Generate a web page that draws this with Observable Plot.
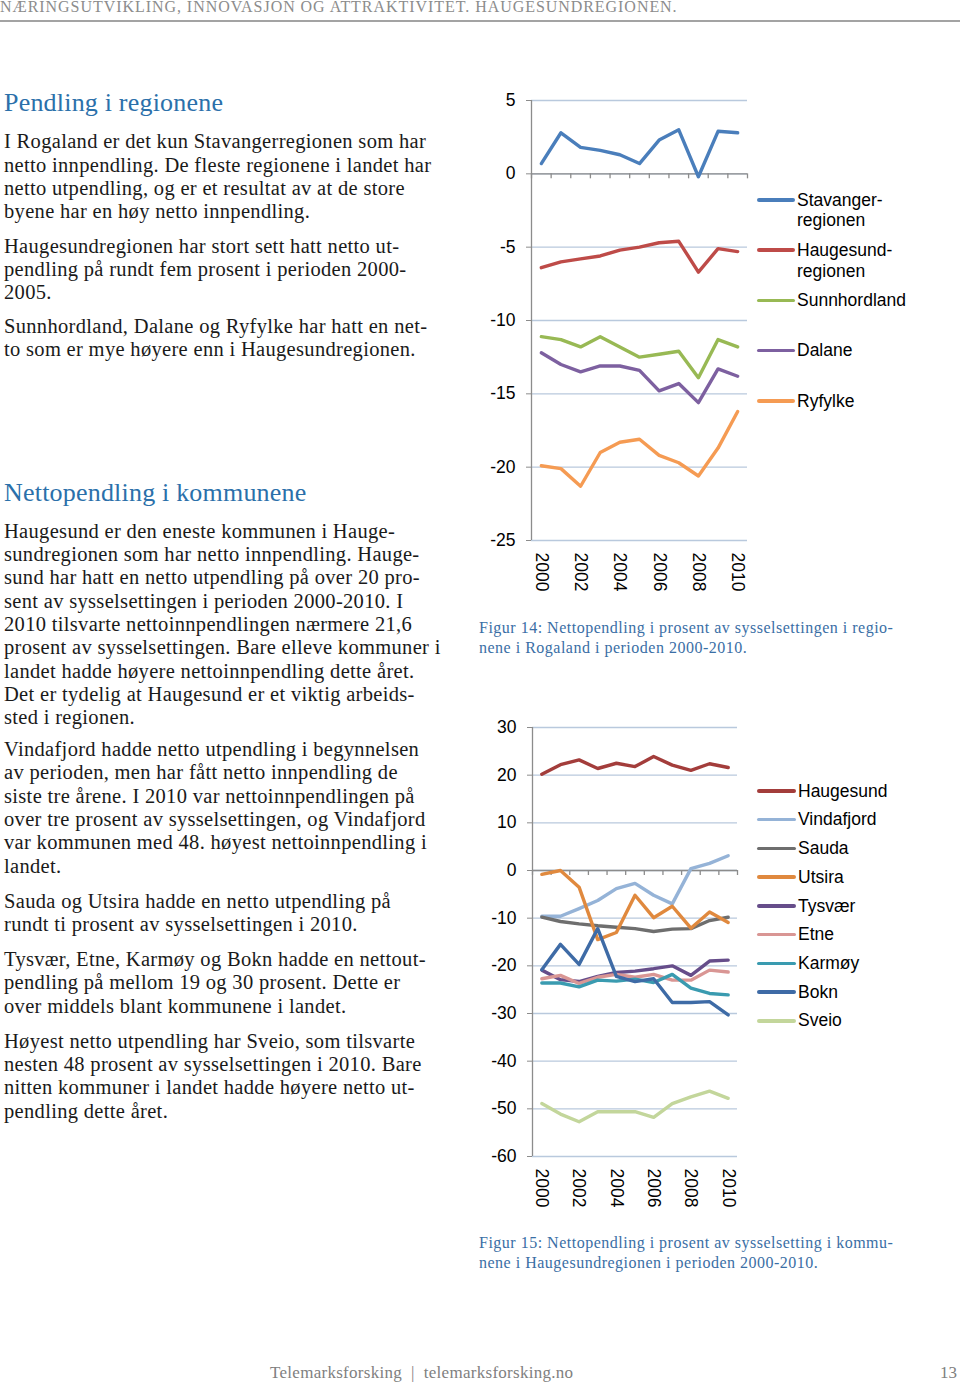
<!DOCTYPE html>
<html><head><meta charset="utf-8">
<script src="https://cdn.jsdelivr.net/npm/d3@7"></script>
<script src="https://cdn.jsdelivr.net/npm/@observablehq/plot@0.6"></script>
<style>
html,body{margin:0;padding:0;background:#fff}
body{width:960px;height:1384px;position:relative;overflow:hidden}
.t{position:absolute;font-family:"Liberation Serif","Times New Roman",serif;white-space:nowrap;color:#1a1a1a}
.p{left:4px;font-size:20.5px;line-height:23.35px;letter-spacing:0.32px}
.h{left:4px;font-size:26px;line-height:30px;color:#2b70aa;letter-spacing:0.2px}
.cap{left:479px;font-size:16px;line-height:19.5px;color:#3a6ea5;letter-spacing:0.5px}
.chart{position:absolute}
.leg{position:absolute;font-family:"Liberation Sans",Arial,sans-serif;font-size:17.5px;line-height:20.7px;color:#000;white-space:nowrap}
.sw{position:absolute;height:3.5px;border-radius:2px}
</style>
</head><body>
<div class="t" style="left:0;top:-1.6px;font-size:16px;line-height:18px;color:#8c8c8c;letter-spacing:0.95px">NÆRINGSUTVIKLING, INNOVASJON OG ATTRAKTIVITET. HAUGESUNDREGIONEN.</div>
<div style="position:absolute;left:0;top:19.5px;width:960px;height:2px;background:#a3a3a3"></div>

<div class="t h" style="top:87.9px">Pendling i regionene</div>
<div class="t p" style="top:130.4px">I Rogaland er det kun Stavangerregionen som har<br>netto innpendling. De fleste regionene i landet har<br>netto utpendling, og er et resultat av at de store<br>byene har en høy netto innpendling.</div>
<div class="t p" style="top:234.7px">Haugesundregionen har stort sett hatt netto ut-<br>pendling på rundt fem prosent i perioden 2000-<br>2005.</div>
<div class="t p" style="top:314.7px">Sunnhordland, Dalane og Ryfylke har hatt en net-<br>to som er mye høyere enn i Haugesundregionen.</div>

<div class="t h" style="top:477.9px">Nettopendling i kommunene</div>
<div class="t p" style="top:519.7px">Haugesund er den eneste kommunen i Hauge-<br>sundregionen som har netto innpendling. Hauge-<br>sund har hatt en netto utpendling på over 20 pro-<br>sent av sysselsettingen i perioden 2000-2010. I<br>2010 tilsvarte nettoinnpendlingen nærmere 21,6<br>prosent av sysselsettingen. Bare elleve kommuner i<br>landet hadde høyere nettoinnpendling dette året.<br>Det er tydelig at Haugesund er et viktig arbeids-<br>sted i regionen.</div>
<div class="t p" style="top:738.1px">Vindafjord hadde netto utpendling i begynnelsen<br>av perioden, men har fått netto innpendling de<br>siste tre årene. I 2010 var nettoinnpendlingen på<br>over tre prosent av sysselsettingen, og Vindafjord<br>var kommunen med 48. høyest nettoinnpendling i<br>landet.</div>
<div class="t p" style="top:889.7px">Sauda og Utsira hadde en netto utpendling på<br>rundt ti prosent av sysselsettingen i 2010.</div>
<div class="t p" style="top:948.1px">Tysvær, Etne, Karmøy og Bokn hadde en nettout-<br>pendling på mellom 19 og 30 prosent. Dette er<br>over middels blant kommunene i landet.</div>
<div class="t p" style="top:1029.7px">Høyest netto utpendling har Sveio, som tilsvarte<br>nesten 48 prosent av sysselsettingen i 2010. Bare<br>nitten kommuner i landet hadde høyere netto ut-<br>pendling dette året.</div>

<div class="t cap" style="top:618.1px">Figur 14: Nettopendling i prosent av sysselsettingen i regio-<br>nene i Rogaland i perioden 2000-2010.</div>
<div class="t cap" style="top:1233px">Figur 15: Nettopendling i prosent av sysselsetting i kommu-<br>nene i Haugesundregionen i perioden 2000-2010.</div>

<div class="t" style="left:270px;top:1363px;font-size:17px;line-height:20px;color:#808080;letter-spacing:0.28px">Telemarksforsking &nbsp;|&nbsp; telemarksforsking.no</div>
<div class="t" style="left:940px;top:1363px;font-size:17px;line-height:20px;color:#808080">13</div>

<div id="c1" class="chart" style="left:470px;top:85px"></div>
<div id="c2" class="chart" style="left:470px;top:715px"></div>
<div id="legends"></div>

<script>
// ---------- data ----------
const years = [2000, 2001, 2002, 2003, 2004, 2005, 2006, 2007, 2008, 2009, 2010];
const xTickLabels = [2000, 2002, 2004, 2006, 2008, 2010];

// Figure 14: regions in Rogaland
const regionNames = ["Stavanger-regionen", "Haugesund-regionen", "Sunnhordland", "Dalane", "Ryfylke"];
const regionLegend = [["Stavanger-", "regionen"], ["Haugesund-", "regionen"], ["Sunnhordland"], ["Dalane"], ["Ryfylke"]];
const stavangerregionen = [0.7, 2.8, 1.8, 1.6, 1.3, 0.7, 2.3, 3.0, -0.2, 2.9, 2.8];
const haugesundregionen = [-6.4, -6.0, -5.8, -5.6, -5.2, -5.0, -4.7, -4.6, -6.7, -5.1, -5.3];
const sunnhordland = [-11.1, -11.3, -11.8, -11.1, -11.8, -12.5, -12.3, -12.1, -13.9, -11.3, -11.8];
const dalane = [-12.2, -13.0, -13.5, -13.1, -13.1, -13.4, -14.8, -14.3, -15.6, -13.3, -13.8];
const ryfylke = [-19.9, -20.1, -21.3, -19.0, -18.3, -18.1, -19.2, -19.7, -20.6, -18.7, -16.2];
const yTicks1 = [5, 0, -5, -10, -15, -20, -25];

// Figure 15: municipalities in Haugesundregionen
const kommuneNames = ["Haugesund", "Vindafjord", "Sauda", "Utsira", "Tysvær", "Etne", "Karmøy", "Bokn", "Sveio"];
const haugesund = [20.2, 22.2, 23.2, 21.4, 22.5, 21.8, 23.9, 22.1, 21.0, 22.4, 21.6];
const vindafjord = [-9.6, -9.6, -8.0, -6.3, -3.8, -2.7, -5.2, -7.0, 0.4, 1.5, 3.1];
const sauda = [-9.8, -10.7, -11.2, -11.6, -11.9, -12.2, -12.8, -12.3, -12.2, -10.5, -9.8];
const utsira = [-0.8, 0.0, -3.5, -14.5, -13.0, -5.2, -9.9, -7.5, -12.1, -8.7, -10.9];
const tysvaer = [-20.9, -22.9, -23.3, -22.2, -21.4, -21.1, -20.6, -20.0, -22.0, -19.0, -18.8];
const etne = [-22.7, -22.0, -23.7, -22.4, -21.8, -22.4, -21.8, -23.0, -23.0, -20.9, -21.3];
const karmoy = [-23.6, -23.6, -24.4, -23.0, -23.2, -22.8, -23.5, -21.8, -24.7, -25.8, -26.1];
const bokn = [-20.8, -15.5, -19.7, -12.2, -22.2, -23.3, -22.7, -27.7, -27.7, -27.5, -30.3];
const sveio = [-48.9, -51.1, -52.7, -50.6, -50.6, -50.6, -51.8, -48.9, -47.5, -46.3, -47.8];
const yTicks2 = [30, 20, 10, 0, -10, -20, -30, -40, -50, -60];

// ---------- styles ----------
const regionColors = ["#4a7ebb", "#be4b48", "#98b954", "#7d60a0", "#f59b53"];
const kommuneColors = ["#a33d3b", "#95b3d7", "#6e6e6e", "#e0893e", "#664d8a", "#d99694", "#3a9bb0", "#3e6ba6", "#c3d69b"];
const gridColor = "#b9c9dd";
const axisColor = "#8c8c8c";

const regionValues = [stavangerregionen, haugesundregionen, sunnhordland, dalane, ryfylke];
const kommuneValues = [haugesund, vindafjord, sauda, utsira, tysvaer, etne, karmoy, bokn, sveio];

function toRows(names, values) {
  return names.flatMap((name, i) => values[i].map((v, j) => ({series: name, year: years[j], value: v})));
}
const bounds = years.map(y => y - 0.5).concat([years[years.length - 1] + 0.5]);

function makeChart({names, values, colors, yTicks, width, height, marginLeft, marginTop, marginBottom}) {
  return Plot.plot({
    width, height, marginLeft, marginRight: 10, marginTop, marginBottom,
    style: {fontFamily: "'Liberation Sans', Arial, sans-serif", fontSize: "17.5px", color: "#000", background: "transparent", overflow: "visible"},
    x: {type: "linear", domain: [bounds[0], bounds[bounds.length - 1]], label: null},
    y: {domain: [d3.min(yTicks), d3.max(yTicks)], label: null},
    color: {domain: names, range: colors},
    marks: [
      Plot.ruleY(yTicks, {stroke: gridColor, strokeWidth: 1.3}),
      Plot.ruleY([0], {stroke: axisColor, strokeWidth: 1.3}),
      Plot.ruleX([bounds[0]], {stroke: axisColor, strokeWidth: 1.3}),
      Plot.ruleX(bounds, {y1: 0, y2: 0, insetBottom: -5, stroke: axisColor, strokeWidth: 1.3}),
      Plot.axisY({ticks: yTicks, tickSize: 5, tickPadding: 11, tickFormat: d => String(d), stroke: axisColor, fill: "#000", label: null}),
      Plot.axisX({ticks: xTickLabels, tickSize: 0, tickPadding: 12, tickRotate: 90, tickFormat: d => String(d), fill: "#000", label: null}),
      Plot.line(toRows(names, values), {x: "year", y: "value", z: "series", stroke: "series", strokeWidth: 3.4})
    ]
  });
}

document.getElementById("c1").append(makeChart({
  names: regionNames, values: regionValues, colors: regionColors, yTicks: yTicks1,
  width: 287, height: 515, marginLeft: 61, marginTop: 15, marginBottom: 60
}));
document.getElementById("c2").append(makeChart({
  names: kommuneNames, values: kommuneValues, colors: kommuneColors, yTicks: yTicks2,
  width: 277, height: 501, marginLeft: 62, marginTop: 12, marginBottom: 60
}));

// ---------- legends ----------
const legRoot = document.getElementById("legends");
function legend(labels, colors, y0, step, swLeft, textLeft) {
  labels.forEach((lines, i) => {
    const cy = y0 + step * i;
    const sw = document.createElement("div");
    sw.className = "sw";
    sw.style.left = swLeft + "px";
    sw.style.width = (textLeft - swLeft - 2) + "px";
    sw.style.top = (cy - 1.75) + "px";
    sw.style.background = colors[i];
    legRoot.append(sw);
    const tx = document.createElement("div");
    tx.className = "leg";
    tx.style.left = textLeft + "px";
    tx.style.top = (cy - 10.3) + "px";
    tx.innerHTML = lines.join("<br>");
    legRoot.append(tx);
  });
}
legend(regionLegend, regionColors, 200, 50.2, 757, 797);
legend(kommuneNames.map(n => [n]), kommuneColors, 791, 28.72, 757, 798);
</script>
</body></html>
